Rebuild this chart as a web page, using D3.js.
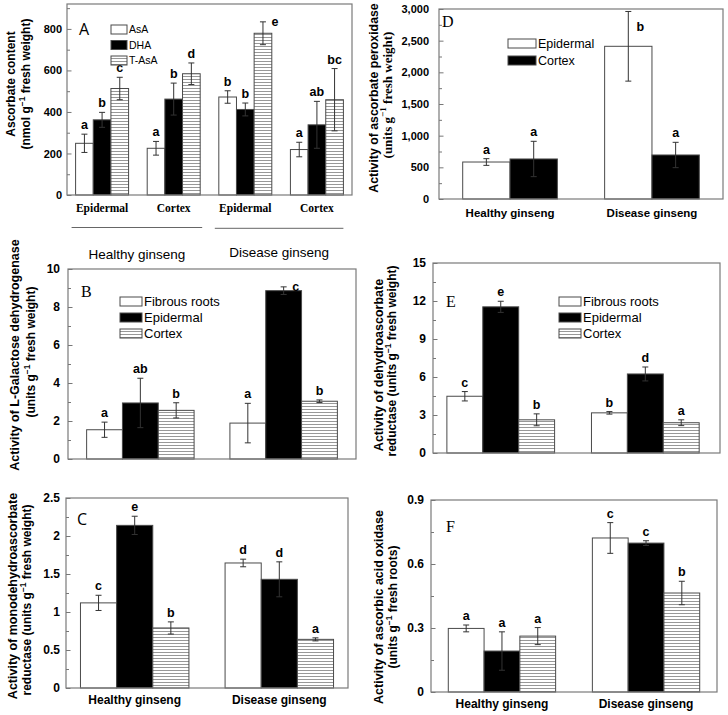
<!DOCTYPE html>
<html><head><meta charset="utf-8">
<script src="https://cdn.jsdelivr.net/npm/d3@7"></script>
<style>body{margin:0;background:#fff}svg{display:block}</style>
</head><body><svg id="c" width="728" height="715"></svg>
<script>
// ---------------- DATA ----------------
const sides = ["Healthy ginseng", "Disease ginseng"];
// Panel A
const aGroups = ["Epidermal", "Cortex", "Epidermal", "Cortex"];
const aSeries = ["AsA", "DHA", "T-AsA"];
const aAsA = [249, 225, 472, 219];
const aAsAErr = [44, 33, 30, 35];
const aAsALet = ["a", "a", "b", "a"];
const aDHA = [362, 462, 412, 338];
const aDHAErr = [36, 77, 31, 113];
const aDHALet = ["b", "b", "b", "ab"];
const aTAsA = [513, 584, 779, 459];
const aTAsAErr = [54, 52, 55, 150];
const aTAsALet = ["c", "d", "e", "bc"];
const aTicks = [0, 200, 400, 600, 800];
const aMinor = [100, 300, 500, 700, 900];
// Panel B
const tissues = ["Fibrous roots", "Epidermal", "Cortex"];
const bFib = [1.54, 1.89], bFibErr = [0.4, 1.04], bFibLet = ["a", "a"];
const bEpi = [2.95, 8.86], bEpiErr = [1.3, 0.2], bEpiLet = ["ab", "c"];
const bCor = [2.56, 3.04], bCorErr = [0.4, 0.07], bCorLet = ["b", "b"];
const bTicks = [0, 2, 4, 6, 8, 10];
const bMinor = [1, 3, 5, 7, 9];
// Panel C
const cFib = [1.12, 1.645], cFibErr = [0.1, 0.05], cFibLet = ["c", "d"];
const cEpi = [2.14, 1.43], cEpiErr = [0.12, 0.23], cEpiLet = ["e", "d"];
const cCor = [0.79, 0.64], cCorErr = [0.08, 0.02], cCorLet = ["b", "a"];
const cTicks = [0, 0.5, 1, 1.5, 2, 2.5];
const cMinor = [0.25, 0.75, 1.25, 1.75, 2.25];
// Panel D
const dSeries = ["Epidermal", "Cortex"];
const dEpi = [584, 2411], dEpiErr = [53, 550], dEpiLet = ["a", "b"];
const dCor = [632, 695], dCorErr = [279, 200], dCorLet = ["a", "a"];
const dTicks = [0, 500, 1000, 1500, 2000, 2500, 3000];
const dMinor = [250, 750, 1250, 1750, 2250, 2750];
// Panel E
const eFib = [4.48, 3.17], eFibErr = [0.37, 0.1], eFibLet = ["c", "b"];
const eEpi = [11.54, 6.24], eEpiErr = [0.44, 0.55], eEpiLet = ["e", "d"];
const eCor = [2.62, 2.39], eCorErr = [0.47, 0.23], eCorLet = ["b", "a"];
const eTicks = [0, 3, 6, 9, 12, 15];
const eMinor = [1.5, 4.5, 7.5, 10.5, 13.5];
// Panel F
const fFib = [0.298, 0.722], fFibErr = [0.016, 0.072], fFibLet = ["a", "c"];
const fEpi = [0.192, 0.698], fEpiErr = [0.09, 0.011], fEpiLet = ["a", "c"];
const fCor = [0.262, 0.464], fCorErr = [0.04, 0.055], fCorLet = ["a", "b"];
const fTicks = [0, 0.3, 0.6, 0.9];
const fMinor = [0.15, 0.45, 0.75];

// ---------------- DRAWING ----------------
const SANS = "'Liberation Sans', Arial, sans-serif";
const SERIF = "'Liberation Serif', 'Times New Roman', serif";
const svg = d3.select("#c");
const defs = svg.append("defs");
const pat = defs.append("pattern").attr("id", "stripe").attr("patternUnits", "userSpaceOnUse")
  .attr("width", 6).attr("height", 3);
pat.append("rect").attr("width", 6).attr("height", 3).attr("fill", "#fff");
pat.append("line").attr("x1", 0).attr("x2", 6).attr("y1", 1.5).attr("y2", 1.5)
  .attr("stroke", "#8c8c8c").attr("stroke-width", 0.9);
const FILLS = ["#fff", "#000", "url(#stripe)"];

function vlabel(x, y, parts, font, size, weight) {
  const t = svg.append("text").attr("transform", `translate(${x},${y}) rotate(-90)`)
    .attr("text-anchor", "middle").attr("font-family", font).attr("font-size", size)
    .attr("font-weight", weight || "bold").attr("fill", "#000");
  let first = true, shift = 0;
  parts.forEach(p => {
    if (typeof p === "string") {
      t.append("tspan").attr("dy", (first ? size * 0.35 : 0) - shift).text(p);
      shift = 0;
    } else {
      const s = size * 0.42;
      t.append("tspan").attr("dy", (first ? size * 0.35 : 0) - s).attr("font-size", size * 0.7).text(p.sup);
      shift = -s;
    }
    first = false;
  });
}

function panel(p) {
  const g = svg.append("g");
  const y = d3.scaleLinear().domain([0, p.yMax]).range([p.bottom, p.top]);
  const x0 = d3.scaleBand().domain(d3.range(p.nGroups)).range([p.left, p.right])
    .paddingInner(p.pi).paddingOuter(p.po).align(p.align == null ? 0.5 : p.align);
  const x1 = d3.scaleBand().domain(d3.range(p.series.length)).range([0, x0.bandwidth()]);

  // bars
  p.series.forEach((s, si) => {
    s.values.forEach((v, gi) => {
      g.append("rect").attr("x", x0(gi) + x1(si)).attr("width", x1.bandwidth())
        .attr("y", y(v)).attr("height", y(0) - y(v))
        .attr("fill", FILLS[s.fill]).attr("stroke", "#4a4a4a").attr("stroke-width", 1);
    });
  });
  // error bars + letters
  p.series.forEach((s, si) => {
    s.values.forEach((v, gi) => {
      const cx = x0(gi) + x1(si) + x1.bandwidth() / 2;
      const e = s.errs[gi];
      const yt = y(v + e), yb = y(Math.max(0, v - e));
      const col = "#333";
      g.append("line").attr("x1", cx).attr("x2", cx).attr("y1", yt).attr("y2", yb).attr("stroke", col).attr("stroke-width", 1);
      g.append("line").attr("x1", cx - 3).attr("x2", cx + 3).attr("y1", yt).attr("y2", yt).attr("stroke", col).attr("stroke-width", 1);
      g.append("line").attr("x1", cx - 3).attr("x2", cx + 3).attr("y1", yb).attr("y2", yb).attr("stroke", col).attr("stroke-width", 1);
      let lx = cx, ly = yt - 5;
      if (yt - p.top < 18) { lx = cx + 12; ly = Math.max(yt + 4, p.top + 22); }
      g.append("text").attr("x", lx).attr("y", ly).attr("text-anchor", "middle")
        .attr("font-family", SANS).attr("font-weight", "bold").attr("font-size", 12.5).text(s.letters[gi]);
    });
  });

  // frame
  g.append("rect").attr("x", p.left).attr("y", p.top).attr("width", p.right - p.left)
    .attr("height", p.bottom - p.top).attr("fill", "none").attr("stroke", "#7a7a7a").attr("stroke-width", 1.2);

  // axes
  const minorAx = d3.axisLeft(y).tickValues(p.minor).tickFormat("").tickSizeInner(-3).tickSizeOuter(0);
  const ga2 = g.append("g").attr("transform", `translate(${p.left},0)`).call(minorAx);
  ga2.select(".domain").remove();
  ga2.selectAll("line").attr("stroke", "#777");
  const ax = d3.axisLeft(y).tickValues(p.ticks).tickFormat(p.fmt).tickSizeInner(-4.5).tickSizeOuter(0).tickPadding(p.pad);
  const ga = g.append("g").attr("transform", `translate(${p.left},0)`).call(ax);
  ga.select(".domain").remove();
  ga.selectAll("line").attr("stroke", "#777");
  ga.selectAll("text").attr("font-family", SANS).attr("font-weight", "bold")
    .attr("font-size", p.tickSize).attr("fill", "#000");

  // x labels
  if (p.xLabels) {
    p.xLabels.forEach((lab, gi) => {
      g.append("text").attr("x", x0(gi) + x0.bandwidth() / 2).attr("y", p.xLabelY)
        .attr("text-anchor", "middle").attr("font-family", p.xFont).attr("font-weight", "bold")
        .attr("font-size", p.xSize).text(lab);
    });
  }

  // panel letter
  g.append("text").attr("x", p.letter.x).attr("y", p.letter.y).attr("font-family", p.letter.font)
    .attr("font-size", p.letter.size).text(p.letter.t);

  // legend
  if (p.legend) {
    p.series.forEach((s, si) => {
      const cy = p.legend.y + si * p.legend.dy;
      g.append("rect").attr("x", p.legend.x).attr("y", cy - 4.5).attr("width", p.legend.w).attr("height", 9)
        .attr("fill", FILLS[s.fill]).attr("stroke", "#4a4a4a").attr("stroke-width", 1);
      g.append("text").attr("x", p.legend.x + p.legend.w + 2).attr("y", cy + p.legend.size * 0.36)
        .attr("font-family", SANS).attr("font-size", p.legend.size).text(s.name);
    });
  }
  return { x0, y };
}

const oneDec = v => v === 0 ? "0" : d3.format(".1f")(v);
// Panel A
const A = panel({
  left: 67, right: 352, top: 4, bottom: 195, yMax: 920, nGroups: 4, pi: 0.26, po: 0.12,
  ticks: aTicks, minor: aMinor, fmt: d3.format("d"), pad: 5, tickSize: 11,
  series: [
    { name: aSeries[0], values: aAsA, errs: aAsAErr, letters: aAsALet, fill: 0 },
    { name: aSeries[1], values: aDHA, errs: aDHAErr, letters: aDHALet, fill: 1 },
    { name: aSeries[2], values: aTAsA, errs: aTAsAErr, letters: aTAsALet, fill: 2 }],
  xLabels: aGroups, xLabelY: 212, xFont: SERIF, xSize: 11.5,
  letter: { t: "A", x: 79, y: 35, font: "'Open Sans', sans-serif", size: 16 },
  legend: { x: 111, y: 29.5, dy: 15.5, w: 16, size: 10.5 }
});
// brackets under panel A
[[0, 1], [2, 3]].forEach((pair, i) => {
  const xa = A.x0(pair[0]) - 4, xb = A.x0(pair[1]) + A.x0.bandwidth() + (i ? 0 : 2);
  svg.append("line").attr("x1", xa).attr("x2", xb).attr("y1", 227.5 + i * 0.8).attr("y2", 227.5 + i * 0.8)
    .attr("stroke", "#666").attr("stroke-width", 1);
  svg.append("text").attr("x", (xa + xb) / 2).attr("y", 259 - i * 2).attr("text-anchor", "middle")
    .attr("font-family", SANS).attr("font-size", 13.5).text(sides[i]);
});
vlabel(11, 84, ["Ascorbate content"], SANS, 12);
vlabel(26, 84, ["(nmol g", { sup: "\u22121" }, " fresh weight)"], SANS, 12);

// Panel B
panel({
  left: 68, right: 356, top: 269, bottom: 459, yMax: 10, nGroups: 2, pi: 0.25, po: 0.13,
  ticks: bTicks, minor: bMinor, fmt: d3.format("d"), pad: 8, tickSize: 12,
  series: [
    { name: tissues[0], values: bFib, errs: bFibErr, letters: bFibLet, fill: 0 },
    { name: tissues[1], values: bEpi, errs: bEpiErr, letters: bEpiLet, fill: 1 },
    { name: tissues[2], values: bCor, errs: bCorErr, letters: bCorLet, fill: 2 }],
  letter: { t: "B", x: 81, y: 297, font: SERIF, size: 16 },
  legend: { x: 120, y: 301.5, dy: 16, w: 22, size: 13 }
});
vlabel(15, 355, ["Activity of L-Galactose dehydrogenase"], SANS, 12.5);
vlabel(31, 352, ["(units g", { sup: "\u22121" }, " fresh weight)"], SANS, 12);

// Panel C
panel({
  left: 66, right: 348, top: 498, bottom: 688, yMax: 2.5, nGroups: 2, pi: 0.25, po: 0.1,
  ticks: cTicks, minor: cMinor, fmt: d3.format(""), pad: 6, tickSize: 12,
  series: [
    { name: tissues[0], values: cFib, errs: cFibErr, letters: cFibLet, fill: 0 },
    { name: tissues[1], values: cEpi, errs: cEpiErr, letters: cEpiLet, fill: 1 },
    { name: tissues[2], values: cCor, errs: cCorErr, letters: cCorLet, fill: 2 }],
  xLabels: sides, xLabelY: 704, xFont: SANS, xSize: 12,
  letter: { t: "C", x: 77, y: 525, font: "'Open Sans', sans-serif", size: 16 }
});
vlabel(13, 596, ["Activity of monodehydroascorbate"], SANS, 12.5);
vlabel(27, 600, ["reductase (units g", { sup: "\u22121" }, " fresh weight)"], SANS, 12);

// Panel D
panel({
  left: 439, right: 723, top: 9, bottom: 199, yMax: 3000, nGroups: 2, pi: 0.333, po: 0.167,
  ticks: dTicks, minor: dMinor, fmt: d3.format(","), pad: 10, tickSize: 11,
  series: [
    { name: dSeries[0], values: dEpi, errs: dEpiErr, letters: dEpiLet, fill: 0 },
    { name: dSeries[1], values: dCor, errs: dCorErr, letters: dCorLet, fill: 1 }],
  xLabels: sides, xLabelY: 217, xFont: SANS, xSize: 11.5,
  letter: { t: "D", x: 442, y: 27, font: SERIF, size: 16 },
  legend: { x: 508, y: 43.5, dy: 17, w: 28, size: 12.5 }
});
vlabel(374, 98, ["Activity of ascorbate peroxidase"], SANS, 12.3);
vlabel(387, 95, ["(units g", { sup: "\u22121" }, " fresh weight)"], SERIF, 13);

// Panel E
panel({
  left: 433, right: 720, top: 263, bottom: 453, yMax: 15, nGroups: 2, pi: 0.255, po: 0.12, align: 0.4,
  ticks: eTicks, minor: eMinor, fmt: d3.format("d"), pad: 7, tickSize: 12,
  series: [
    { name: tissues[0], values: eFib, errs: eFibErr, letters: eFibLet, fill: 0 },
    { name: tissues[1], values: eEpi, errs: eEpiErr, letters: eEpiLet, fill: 1 },
    { name: tissues[2], values: eCor, errs: eCorErr, letters: eCorLet, fill: 2 }],
  letter: { t: "E", x: 446, y: 307, font: SERIF, size: 16 },
  legend: { x: 559, y: 301.5, dy: 16, w: 22, size: 13 }
});
vlabel(379, 365, ["Activity of dehydroascorbate"], SANS, 12.5);
vlabel(392, 361, ["reductase (units g", { sup: "\u22121" }, " fresh weight)"], SANS, 12);

// Panel F
panel({
  left: 431, right: 717, top: 500, bottom: 692, yMax: 0.9, nGroups: 2, pi: 0.255, po: 0.12,
  ticks: fTicks, minor: fMinor, fmt: oneDec, pad: 7, tickSize: 12,
  series: [
    { name: tissues[0], values: fFib, errs: fFibErr, letters: fFibLet, fill: 0 },
    { name: tissues[1], values: fEpi, errs: fEpiErr, letters: fEpiLet, fill: 1 },
    { name: tissues[2], values: fCor, errs: fCorErr, letters: fCorLet, fill: 2 }],
  xLabels: sides, xLabelY: 708, xFont: SANS, xSize: 12,
  letter: { t: "F", x: 446, y: 532, font: SERIF, size: 16 }
});
vlabel(379, 607, ["Activity of ascorbic acid oxidase"], SANS, 12.5);
vlabel(393, 607, ["(units g", { sup: "\u22121" }, " fresh roots)"], SANS, 12);
</script></body></html>
